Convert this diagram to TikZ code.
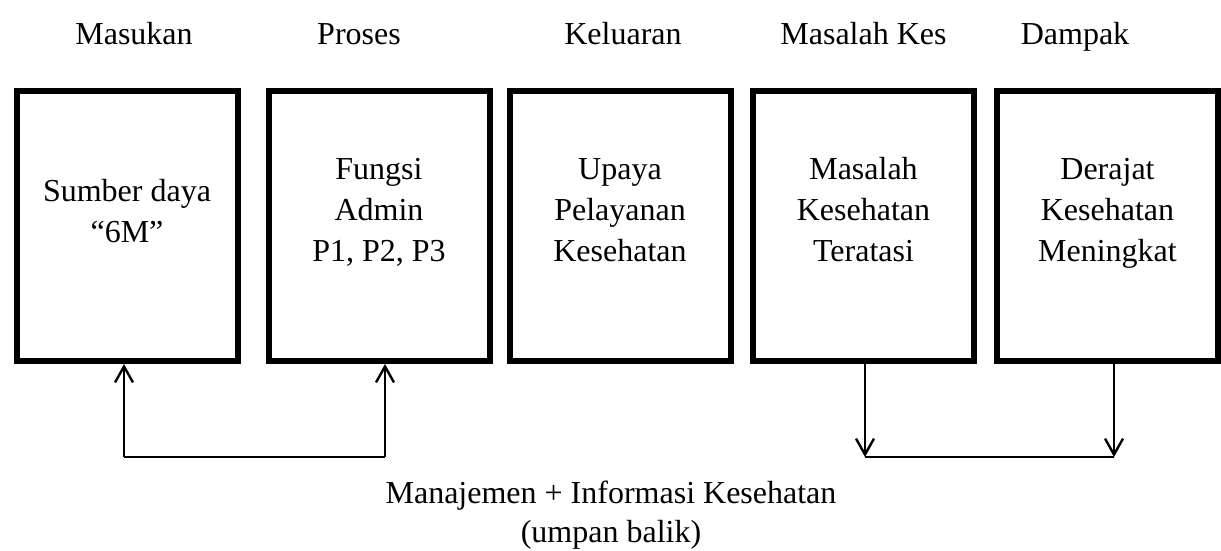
\documentclass[tikz,border=0pt]{standalone}
\usepackage{fontspec}
\setmainfont{Liberation Serif}
\usetikzlibrary{arrows.meta}
\tikzset{>={Straight Barb[length=8pt,width=9pt]}}
\tikzset{
  kotak/.style={draw,line width=3pt,minimum width=110.5pt,minimum height=135pt,inner sep=0pt},
  isi/.style={align=center,font=\fontsize{16}{20.5}\selectfont},
  judul/.style={anchor=base,font=\fontsize{16}{20.5}\selectfont},
  balik/.style={line width=1.2pt}
}

\begin{document}
\begin{tikzpicture}[x=0.5pt,y=-0.5pt]
	% \draw[help lines] (0,0) grid (1221,551);
	\useasboundingbox (0,0) rectangle (1221,551);
	\foreach \n/\x in {in/127,proc/379,out/620,mas/863.5,dam/1107.5}{
		\node[kotak] (\n) at (\x,226) {};
	}
	\node[judul] (jIn) at (134,45) {Masukan};
	\node[judul] (jProc) at (359,45) {Proses};
	\node[judul] (jOut) at (623,45) {Keluaran};
	\node[judul] (jMas) at (863.5,45) {Masalah Kes};
	\node[judul] (jDam) at (1075,45) {Dampak};
	\node[isi] (tIn) at (127,214) {\strut Sumber daya\\“6M”\strut};
	\node[isi] (tProc) at (379,212) {\strut Fungsi\\Admin\\P1, P2, P3\strut};
	\node[isi] (tOut) at (620,212) {\strut Upaya\\Pelayanan\\Kesehatan\strut};
	\node[isi] (tMas) at (863.5,212) {\strut Masalah\\Kesehatan\\Teratasi\strut};
	\node[isi] (tDam) at (1107.5,212) {\strut Derajat\\Kesehatan\\Meningkat\strut};
	\coordinate (fb1) at (124,457);
	\coordinate (fb2) at (385,457);
	\coordinate (fb3) at (865,457);
	\coordinate (fb4) at (1114,457);
	\draw[balik] (fb1) -- (fb2);
	\draw[balik,->] (fb1) -- (fb1 |- in.south);
	\draw[balik,->] (fb2) -- (fb2 |- proc.south);
	\draw[balik] (fb3) -- (fb4);
	\draw[balik,->] (fb3 |- mas.south) -- (fb3);
	\draw[balik,->] (fb4 |- dam.south) -- (fb4);
	\node[isi,font=\fontsize{16}{19.5}\selectfont] (ket) at (611,515) {\strut Manajemen + Informasi Kesehatan\\(umpan balik)\strut};
\end{tikzpicture}
\end{document}
